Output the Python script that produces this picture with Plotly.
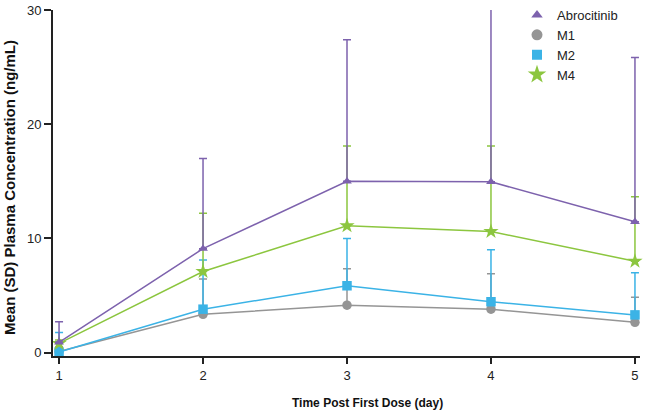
import plotly.graph_objects as go

days = [1, 2, 3, 4, 5]
series_names = ["Abrocitinib", "M1", "M2", "M4"]
abro_mean = [0.9, 9.1, 15.0, 14.95, 11.45]
abro_sd = [1.8, 7.9, 12.4, 15.7, 14.4]
m1_mean = [0.1, 3.35, 4.15, 3.8, 2.65]
m1_sd = [0.4, 3.1, 3.2, 3.1, 2.2]
m2_mean = [0.05, 3.8, 5.85, 4.45, 3.3]
m2_sd = [1.7, 4.3, 4.15, 4.55, 3.7]
m4_mean = [0.8, 7.1, 11.1, 10.6, 8.0]
m4_sd = [0.3, 5.1, 7.0, 7.5, 5.65]
y_ticks = [0, 10, 20, 30]

colors = {"Abrocitinib": "#7d62ad", "M1": "#959595", "M2": "#3bb3e6", "M4": "#8cc63f"}
symbols = {"Abrocitinib": "triangle-up", "M1": "circle", "M2": "square", "M4": "star"}
sizes = {"Abrocitinib": 8.5, "M1": 9.5, "M2": 9.5, "M4": 11.5}
legend_sizes = {"Abrocitinib": 10, "M1": 11, "M2": 10, "M4": 14}
data = {
    "Abrocitinib": (abro_mean, abro_sd),
    "M1": (m1_mean, m1_sd),
    "M2": (m2_mean, m2_sd),
    "M4": (m4_mean, m4_sd),
}

fig = go.Figure()
for name in ["M1", "M2", "M4", "Abrocitinib"]:
    mean, sd = data[name]
    fig.add_trace(go.Scatter(
        x=days, y=mean, mode="lines+markers", name=name, showlegend=False,
        line=dict(color=colors[name], width=1.5),
        marker=dict(symbol=symbols[name], size=sizes[name], color=colors[name]),
        error_y=dict(type="data", array=sd, symmetric=False, arrayminus=[0]*len(sd),
                     color=colors[name], thickness=1.5, width=4),
        cliponaxis=False,
    ))
for i, name in enumerate(series_names):
    fig.add_trace(go.Scatter(
        x=[None], y=[None], mode="markers", name=name, legendrank=i + 1,
        marker=dict(symbol=symbols[name], size=legend_sizes[name], color=colors[name]),
    ))

W, H = 646, 413
fig.update_layout(
    width=W, height=H,
    margin=dict(l=53, r=6, t=10, b=57, autoexpand=False),
    plot_bgcolor="white", paper_bgcolor="white",
    font=dict(family="Liberation Sans, Arial, sans-serif", size=13, color="#222"),
    legend=dict(xref="container", yref="container",
                x=517 / W, y=1.0, xanchor="left", yanchor="top",
                font=dict(size=13, color="#222"), bgcolor="rgba(0,0,0,0)",
                itemwidth=30, tracegroupgap=0),
    xaxis=dict(range=[0.958, 5.035], tickvals=days, ticks="outside", ticklen=6,
               tickwidth=1.5, tickcolor="#222", showline=True, linecolor="#222",
               linewidth=1.8, showgrid=False, zeroline=False,
               tickfont=dict(size=13)),
    yaxis=dict(range=[-0.3, 30], tickvals=y_ticks, ticks="outside", ticklen=7,
               tickwidth=1.5, tickcolor="#222", showline=True, linecolor="#222",
               linewidth=1.8, showgrid=False, zeroline=False,
               tickfont=dict(size=13)),
    annotations=[
        dict(text="<b>Time Post First Dose (day)</b>", xref="paper", yref="paper",
             x=(367 - 53) / 587, y=-(403 - 356) / 346, xanchor="center", yanchor="middle",
             showarrow=False, font=dict(size=12, color="#111")),
        dict(text="<b>Mean (SD) Plasma Concentration (ng/mL)</b>", xref="paper", yref="paper",
             x=-(53 - 9) / 587, y=(356 - 188) / 346, xanchor="center", yanchor="middle",
             textangle=-90, showarrow=False, font=dict(size=15, color="#111")),
    ],
)

fig.write_html("out.html", config={"displayModeBar": False},
               post_script="document.body.style.margin='0px';")
